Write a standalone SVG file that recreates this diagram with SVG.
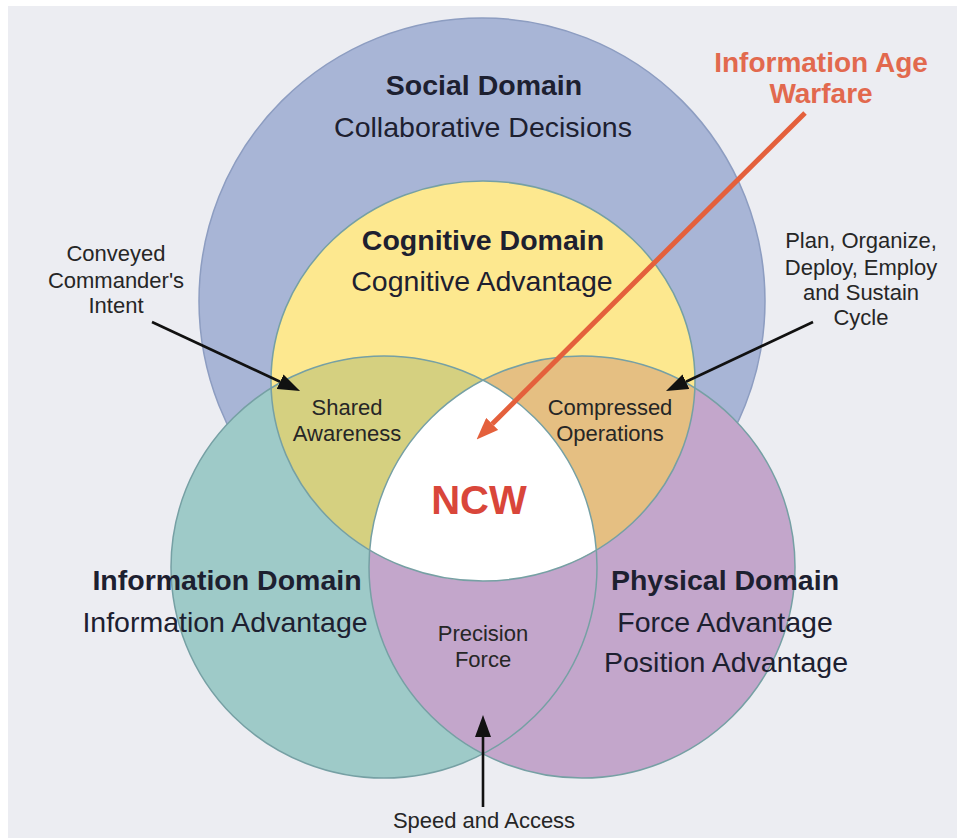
<svg xmlns="http://www.w3.org/2000/svg" width="957" height="838" viewBox="0 0 957 838">
<defs>
<style>
.big{font-family:"Liberation Sans",Arial,sans-serif;font-size:28.5px;fill:#1d2030;text-anchor:middle}
.b{font-weight:bold}
.sm{font-family:"Liberation Sans",Arial,sans-serif;font-size:22px;fill:#262626;text-anchor:middle}
.edge{fill:none;stroke:#76a0a4;stroke-width:1.5}
.blk{stroke:#111;stroke-width:2.6;fill:none}
</style>
<clipPath id="cCog"><ellipse cx="483" cy="381" rx="212" ry="200"/></clipPath>
<clipPath id="cTeal"><ellipse cx="384" cy="567" rx="213" ry="211"/></clipPath>
<clipPath id="cPhys"><ellipse cx="582" cy="567" rx="213" ry="211"/></clipPath>
<marker id="ahB" markerUnits="userSpaceOnUse" markerWidth="22" markerHeight="16" viewBox="0 0 22 16" refX="0" refY="8" orient="auto">
<path d="M0,0 L22,8 L0,16 z" fill="#111"/>
</marker>
<marker id="ahO" markerUnits="userSpaceOnUse" markerWidth="22" markerHeight="17" viewBox="0 0 22 17" refX="0" refY="8.5" orient="auto">
<path d="M0,0 L22,8.5 L0,17 z" fill="#e4603c"/>
</marker>
</defs>
<rect x="0" y="0" width="957" height="838" fill="#ffffff"/>
<rect x="8" y="6" width="949" height="832" fill="#ecedf2"/>

<g id="social">
<circle cx="482" cy="301" r="283" fill="#a8b5d6" stroke="#8d9dc1" stroke-width="1.5"/>
</g>
<g id="cognitive">
<ellipse cx="483" cy="381" rx="212" ry="200" fill="#fde88f"/>
</g>
<g id="information">
<ellipse cx="384" cy="567" rx="213" ry="211" fill="#9ecac8"/>
</g>
<g id="physical">
<ellipse cx="582" cy="567" rx="213" ry="211" fill="#c3a6cb"/>
</g>
<g id="shared-awareness">
<ellipse cx="384" cy="567" rx="213" ry="211" fill="#d5d080" clip-path="url(#cCog)"/>
</g>
<g id="compressed-operations">
<ellipse cx="582" cy="567" rx="213" ry="211" fill="#e5bf82" clip-path="url(#cCog)"/>
</g>
<g id="ncw">
<g clip-path="url(#cTeal)">
<ellipse cx="582" cy="567" rx="213" ry="211" fill="#ffffff" clip-path="url(#cCog)"/>
</g>
</g>
<g id="outlines">
<ellipse class="edge" cx="483" cy="381" rx="212" ry="200"/>
<ellipse class="edge" cx="384" cy="567" rx="213" ry="211"/>
<ellipse class="edge" cx="582" cy="567" rx="213" ry="211"/>
</g>

<g id="connectors">
<line x1="805" y1="113" x2="492.2" y2="423.9" stroke="#e4603c" stroke-width="5" marker-end="url(#ahO)"/>
<line class="blk" x1="152" y1="322" x2="280.1" y2="381.7" marker-end="url(#ahB)"/>
<line class="blk" x1="813" y1="322" x2="685.9" y2="381.7" marker-end="url(#ahB)"/>
<line class="blk" x1="483" y1="807" x2="483" y2="737" marker-end="url(#ahB)"/>
</g>

<g id="labels">
<text class="big b" x="484" y="95">Social Domain</text>
<text class="big" x="483" y="137">Collaborative Decisions</text>
<text class="big b" x="483" y="250">Cognitive Domain</text>
<text class="big" x="482" y="291">Cognitive Advantage</text>
<text class="big b" x="227" y="590">Information Domain</text>
<text class="big" x="225" y="632">Information Advantage</text>
<text class="big b" x="725" y="590">Physical Domain</text>
<text class="big" x="725" y="632">Force Advantage</text>
<text class="big" x="726" y="672">Position Advantage</text>
<text class="sm" x="347" y="415">Shared</text>
<text class="sm" x="347" y="441">Awareness</text>
<text class="sm" x="610" y="415">Compressed</text>
<text class="sm" x="610" y="441">Operations</text>
<text class="sm" x="483" y="641">Precision</text>
<text class="sm" x="483" y="667">Force</text>
<text style="font-family:'Liberation Sans',Arial,sans-serif;font-size:40px;font-weight:bold;fill:#d9463a;text-anchor:middle" x="479" y="514">NCW</text>
<text class="sm" x="116" y="261">Conveyed</text>
<text class="sm" x="116" y="288">Commander's</text>
<text class="sm" x="116" y="313">Intent</text>
<text class="sm" x="861" y="248">Plan, Organize,</text>
<text class="sm" x="861" y="275">Deploy, Employ</text>
<text class="sm" x="861" y="300">and Sustain</text>
<text class="sm" x="861" y="325">Cycle</text>
<text class="sm" x="484" y="828">Speed and Access</text>
<text style="font-family:'Liberation Sans',Arial,sans-serif;font-size:28px;font-weight:bold;fill:#e2694e;text-anchor:middle" x="821" y="72">Information Age</text>
<text style="font-family:'Liberation Sans',Arial,sans-serif;font-size:28px;font-weight:bold;fill:#e2694e;text-anchor:middle" x="821" y="103">Warfare</text>
</g>
</svg>
